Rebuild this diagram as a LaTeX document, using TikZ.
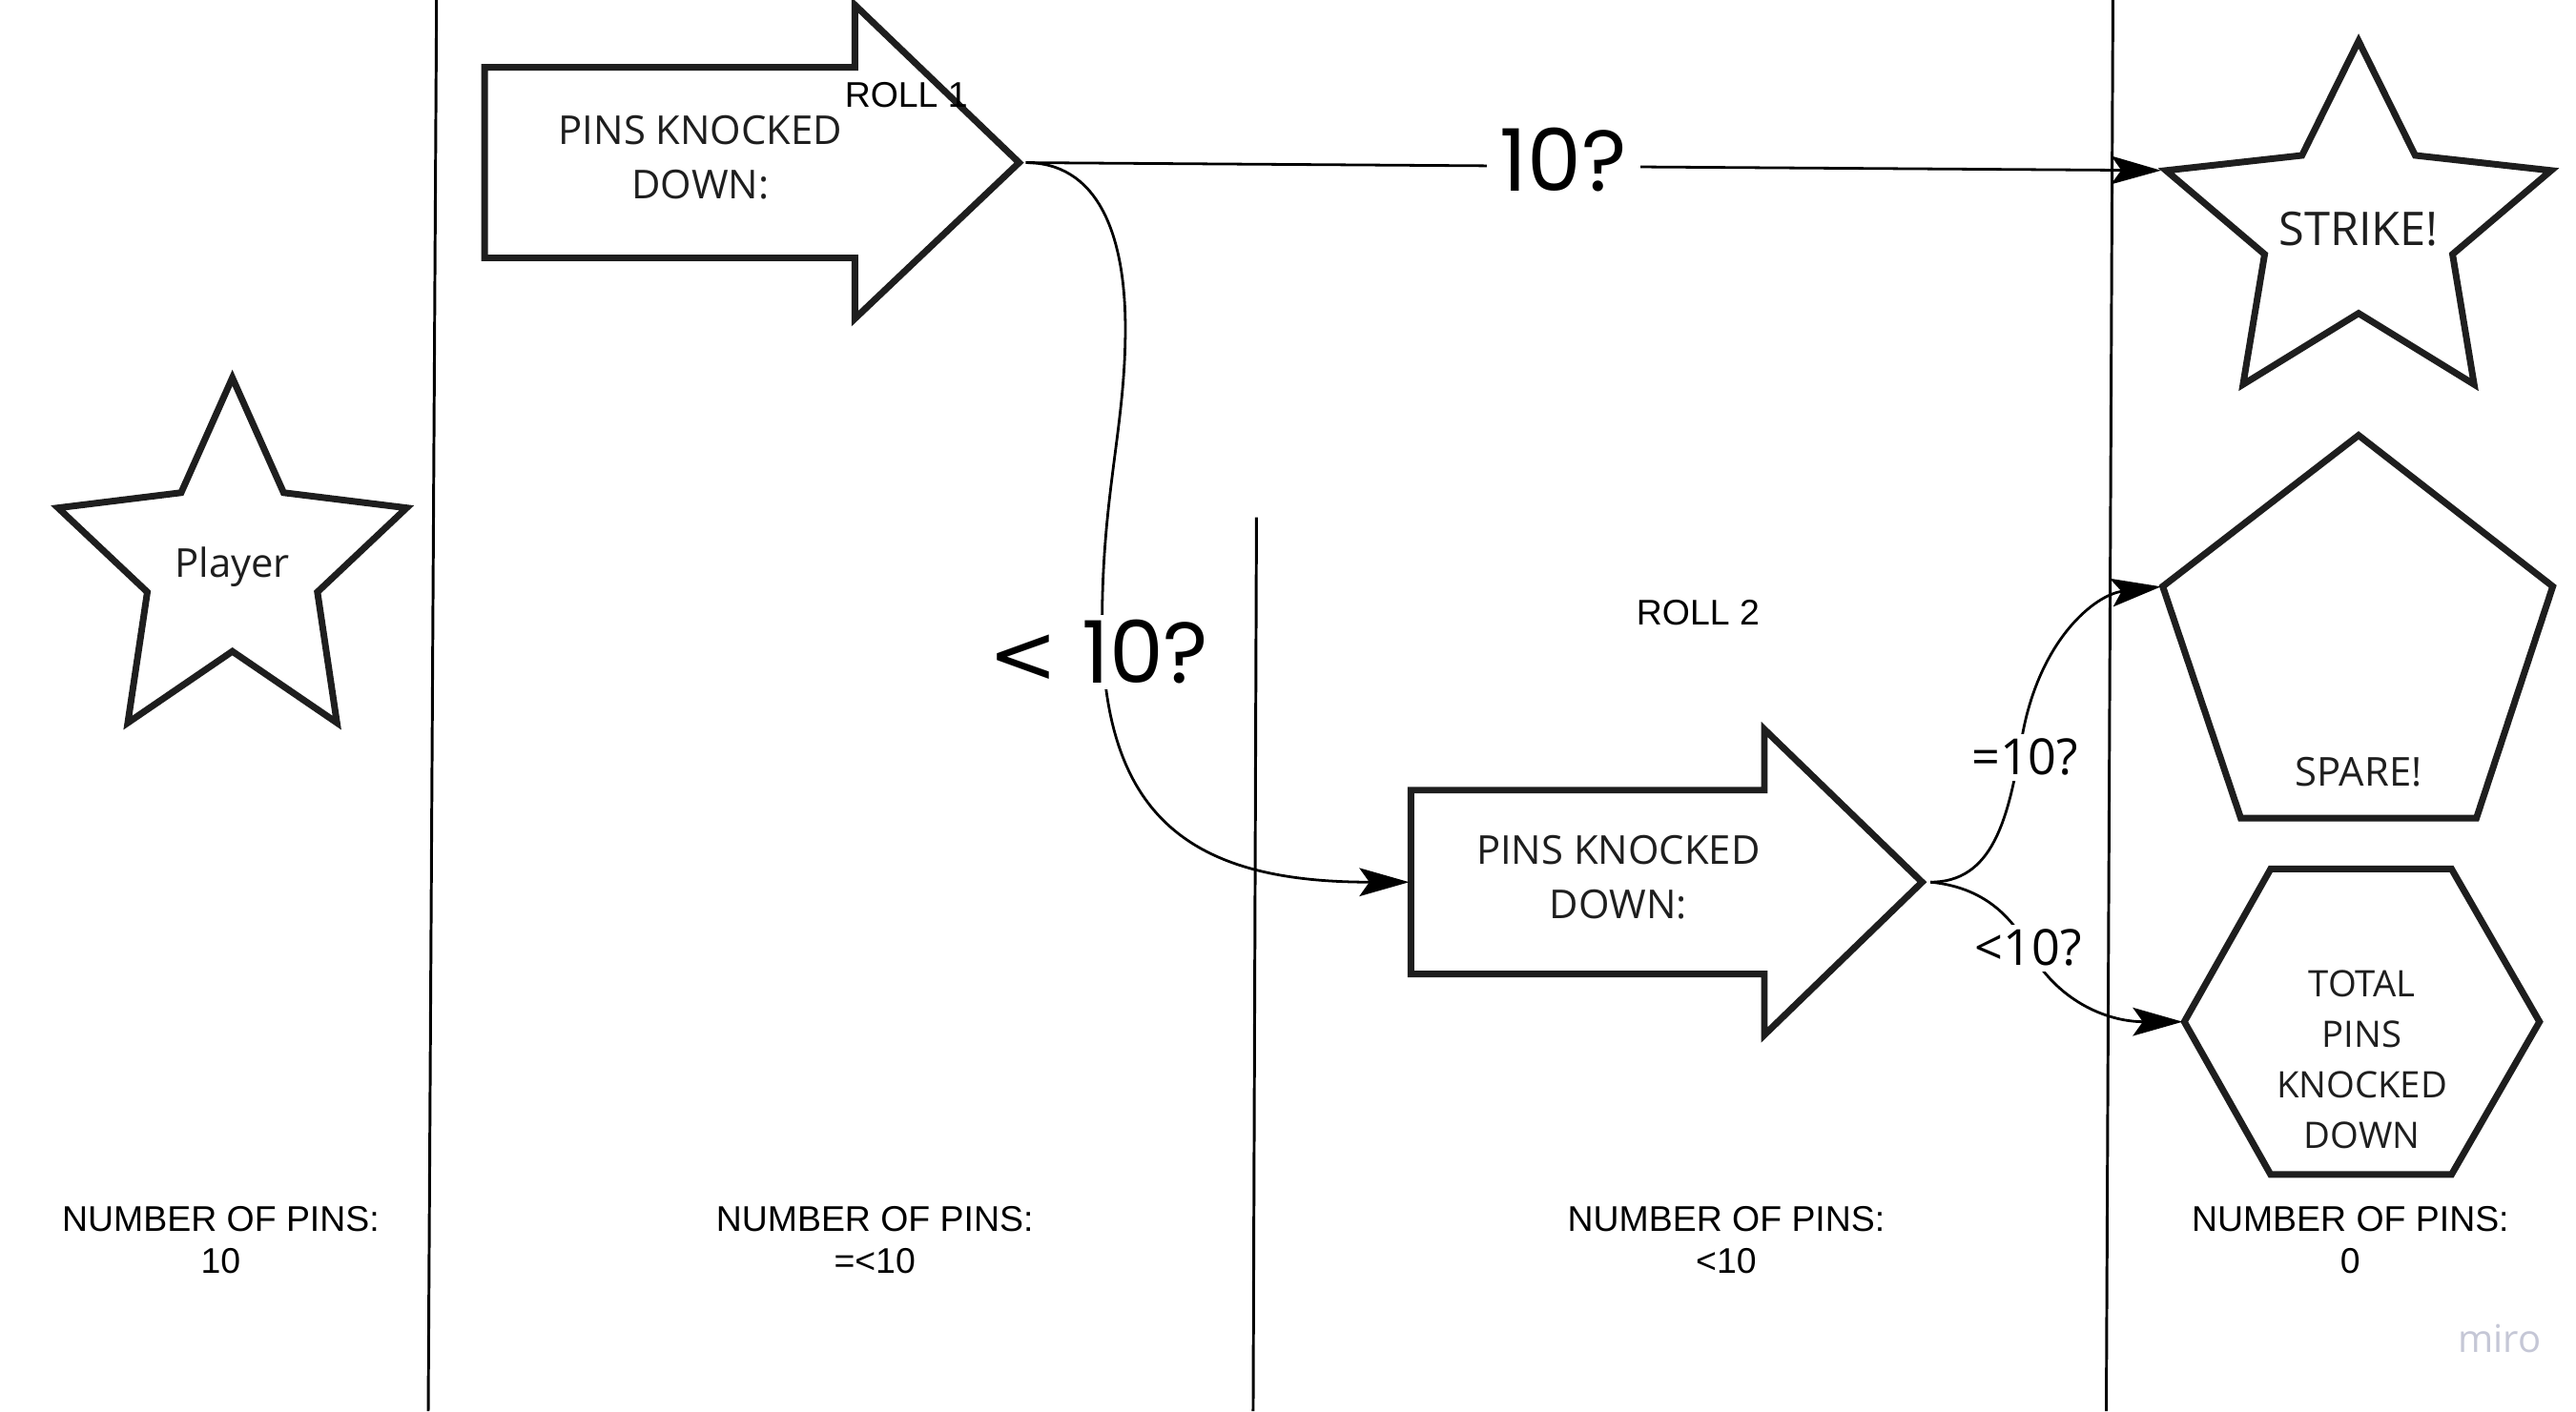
\documentclass[tikz,border=0pt]{standalone}
\usepackage{fontspec}
\setmainfont{Open Sans}
\newfontfamily\arialf{Liberation Sans}
\newfontfamily\popf{Poppins}
\newfontfamily\dejavuf{DejaVu Sans}
\usetikzlibrary{arrows.meta}
\definecolor{ink}{HTML}{1E1E1E}
\definecolor{mirog}{HTML}{C5C7D6}
\tikzset{
 shapeline/.style={draw=ink, line width=4pt, line join=miter},
 lane/.style={draw=black, line width=1.7pt},
 conn/.style={draw=black, line width=1.6pt, -{Stealth[length=30pt,width=17pt,inset=6pt]}},
 shapetxt/.style={font=\fontsize{24}{33}\selectfont, text=ink, align=center, inner sep=0pt},
 lbl/.style={font=\arialf\fontsize{21.5}{25}\selectfont, text=black, align=center, inner sep=0pt},
 edgelbl/.style={fill=white, inner sep=3pt, text=black},
}
\begin{document}
\begin{tikzpicture}[x=1pt,y=-0.99pt]
\useasboundingbox (0,0) rectangle (1552,859);
\fill[white] (0,0) rectangle (1552,859);

% lanes
\coordinate (l1t) at (263,0); \coordinate (l1b) at (258,859);
\coordinate (l2t) at (757,315); \coordinate (l2b) at (755,859);
\coordinate (l3t) at (1273,0); \coordinate (l3b) at (1269,859);
\draw[lane] (l1t) -- (l1b);
\draw[lane] (l2t) -- (l2b);
\draw[lane] (l3t) -- (l3b);

% player star
\begin{scope}[shift={(35,230)}, xscale=210, yscale=210]
 \draw[shapeline] (0.5,0) -- (0.647,0.333) -- (1,0.377) -- (0.744,0.621) -- (0.8,1) -- (0.5,0.793) -- (0.2,1) -- (0.256,0.621) -- (0,0.377) -- (0.353,0.333) -- cycle;
 \node[shapetxt] (player) at (0.5,0.549) {Player};
\end{scope}

% strike star
\begin{scope}[shift={(1305,25)}, xscale=232, yscale=209]
 \draw[shapeline] (0.5,0) -- (0.647,0.333) -- (1,0.377) -- (0.744,0.621) -- (0.8,1) -- (0.5,0.793) -- (0.2,1) -- (0.256,0.621) -- (0,0.377) -- (0.353,0.333) -- cycle;
 \coordinate (strikeL) at (0,0.377);
 \node[shapetxt, font=\fontsize{28}{33}\selectfont] (strike) at (0.5,0.548) {STRIKE!};
\end{scope}

% arrow 1
\draw[shapeline] (292,41) -- (515,41) -- (515,3) -- (614,99) -- (515,194) -- (515,157) -- (292,157) -- cycle;
\coordinate (a1out) at (618,99);
\node[shapetxt] (a1txt) at (422,96) {PINS KNOCKED\\DOWN:};
\node[lbl] (roll1) at (546,58) {ROLL 1};

% arrow 2
\draw[shapeline] (850,481) -- (1063,481) -- (1063,444) -- (1158,537) -- (1063,630) -- (1063,593) -- (850,593) -- cycle;
\coordinate (a2in) at (850,537);
\coordinate (a2out) at (1163,537);
\node[shapetxt] (a2txt) at (975,534) {PINS KNOCKED\\DOWN:};
\node[lbl] (roll2) at (1023,373) {ROLL 2};

% pentagon
\draw[shapeline] (1421,265) -- (1538,357) -- (1492,498) -- (1350,498) -- (1303,357) -- cycle;
\coordinate (pentL) at (1303,357);
\node[shapetxt] (spare) at (1421,470) {SPARE!};

% hexagon
\draw[shapeline] (1316,622) -- (1368,529) -- (1477,529) -- (1530,622) -- (1477,715) -- (1368,715) -- cycle;
\coordinate (hexL) at (1316,622);
\node[shapetxt, font=\fontsize{22}{30.5}\selectfont] (total) at (1423,645) {TOTAL\\PINS\\KNOCKED\\DOWN};

% connectors
\draw[conn, shorten >=3pt] (a1out) -- (strikeL);
\draw[conn, shorten >=1pt] (a1out) .. controls (660,99) and (678,140) .. (678,200) .. controls (678,260) and (664,300) .. (664,380) .. controls (664,500) and (720,537) .. (a2in);
\draw[conn, shorten >=1pt] (a2out) .. controls (1200,537) and (1210,500) .. (1218,450) .. controls (1228,390) and (1262,362) .. (pentL);
\draw[conn, shorten >=1pt] (a2out) .. controls (1195,540) and (1212,558) .. (1222,577) .. controls (1238,608) and (1268,622) .. (hexL);

% connector labels
\node[edgelbl, font=\popf\fontsize{52}{52}\selectfont, inner sep=8pt] (q1) at (942,97) {10?};
\node[edgelbl, font=\popf\fontsize{52}{52}\selectfont] (q2) at (662,397) {{\dejavuf\fontsize{50}{50}\selectfont<} 10?};
\node[edgelbl, font=\fontsize{30}{30}\selectfont] (q3) at (1220,461) {=10?};
\node[edgelbl, font=\fontsize{30}{30}\selectfont] (q4) at (1222,577) {<10?};

% bottom labels
\node[lbl] (n1) at (133,755) {NUMBER OF PINS:\\10};
\node[lbl] (n2) at (527,755) {NUMBER OF PINS:\\=<10};
\node[lbl] (n3) at (1040,755) {NUMBER OF PINS:\\<10};
\node[lbl] (n4) at (1416,755) {NUMBER OF PINS:\\0};

\node[text=mirog, font=\fontsize{23}{23}\selectfont, inner sep=0pt] (miro) at (1506,815) {miro};
\end{tikzpicture}
\end{document}
